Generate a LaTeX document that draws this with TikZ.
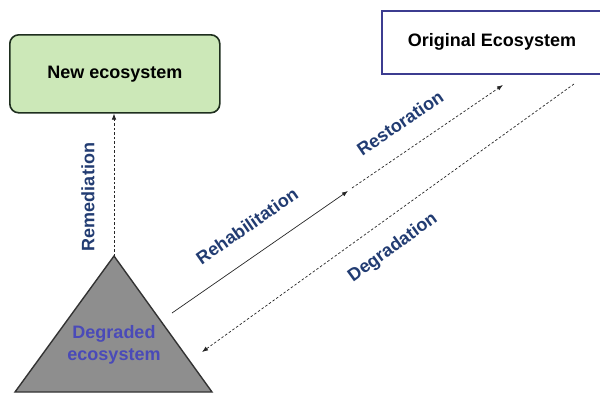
\documentclass[tikz,border=0pt]{standalone}
\usepackage{fontspec}
\setmainfont{Liberation Sans}
\usetikzlibrary{arrows.meta}
\definecolor{greenfill}{HTML}{CCE8B8}
\definecolor{greenedge}{HTML}{1E2E1E}
\definecolor{boxblue}{HTML}{3C3C90}
\definecolor{navy}{HTML}{223C72}
\definecolor{triblue}{HTML}{4A4AB8}
\definecolor{trigray}{HTML}{8E8E8E}
\begin{document}
\begin{tikzpicture}[x=1pt,y=-1pt,
  lbl/.style={font=\fontsize{18}{21}\selectfont\bfseries, inner sep=0pt},
  arr/.style={-{Latex[length=6pt,width=4.5pt]}, line width=0.7pt, black!85},
  dsh/.style={dash pattern=on 2.5pt off 2pt}]
\useasboundingbox (0,0) rectangle (600,392);
\clip (0,0) rectangle (600,392);
% boxes
\node[draw=greenedge, fill=greenfill, line width=1.6pt, rounded corners=9pt,
  minimum width=210pt, minimum height=78pt, anchor=north west, lbl, inner sep=0pt]
  (newbox) at (9,34) {New ecosystem};
\node[draw=boxblue, line width=2.2pt, minimum width=240pt, minimum height=63pt,
  anchor=north west, inner sep=0pt] (origbox) at (381,10) {};
\node[lbl] (origtxt) at (492,42) {Original Ecosystem};
% triangle
\coordinate (apex) at (114,256);
\coordinate (tl) at (15,392);
\coordinate (tr) at (212,392);
\draw[fill=trigray, draw=black!80, line width=1.4pt, line join=miter] (apex) -- (tr) -- (tl) -- cycle;
\node[lbl, text=triblue, align=center, font=\fontsize{18}{22}\selectfont\bfseries] (degtxt) at (114,345) {Degraded\\ecosystem};
% connector points
\coordinate (rehS) at (172,313);
\coordinate (rehE) at (348,191);
\coordinate (resS) at (352,188);
\coordinate (resE) at (503,85);
\coordinate (degS) at (574,84);
\coordinate (degE) at (202,352);
% arrows
\draw[arr, dsh] (apex) -- (newbox.south -| apex);
\draw[arr] (rehS) -- (rehE);
\draw[arr, dsh] (resS) -- (resE);
\draw[arr, dsh] (degS) -- (degE);
% labels
\node[lbl, text=navy, rotate=90] (remlbl) at (88,197) {Remediation};
\node[lbl, text=navy, rotate=34.7] (rehlbl) at (247,226) {Rehabilitation};
\node[lbl, text=navy, rotate=34.3] (reslbl) at (400,123) {Restoration};
\node[lbl, text=navy, rotate=36] (deglbl) at (393,248) {Degradation};
\end{tikzpicture}
\end{document}
